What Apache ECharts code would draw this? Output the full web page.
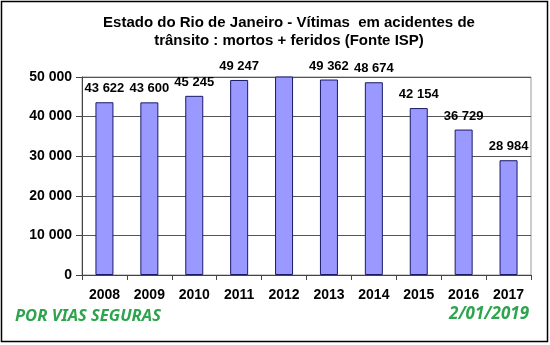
<!DOCTYPE html>
<html><head><meta charset="utf-8">
<script src="https://cdn.jsdelivr.net/npm/echarts@6/dist/echarts.min.js"></script>
<style>html,body{margin:0;padding:0;background:#fff}#c{width:550px;height:345px}</style>
</head><body><div id="c"></div>
<script>
const categories = ['2008','2009','2010','2011','2012','2013','2014','2015','2016','2017'];
const values = [43622, 43600, 45245, 49247, 50400, 49362, 48674, 42154, 36729, 28984];
const hiddenLabel = ['2012'];
const yTicks = [0, 10000, 20000, 30000, 40000, 50000];

function fmt(v){ return String(v).replace(/\B(?=(\d{3})+(?!\d))/g, ' '); }
const FONT = '"Liberation Sans", Arial, sans-serif';
const GFONT = '"Noto Sans", "Open Sans", sans-serif';
const chart = echarts.init(document.getElementById('c'));
chart.setOption({
  animation: false,
  backgroundColor: '#fff',
  title: {
    text: 'Estado do Rio de Janeiro - Vítimas  em acidentes de\ntrânsito : mortos + feridos (Fonte ISP)',
    left: 284, top: 9, textAlign: 'center',
    textStyle: { fontFamily: FONT, fontSize: 15, fontWeight: 'bold', color: '#000', lineHeight: 18 }
  },
  graphic: [
    { type: 'rect', shape: { x: 1.5, y: 1.5, width: 546, height: 340 }, style: { fill: null, stroke: '#000', lineWidth: 1.5 }, silent: true },
    { type: 'text', left: 15, top: 308, style: { text: 'POR VIAS SEGURAS', font: 'italic bold 16.5px ' + GFONT, fill: '#2ea44f' } },
    { type: 'text', right: 21, top: 306, style: { text: '2/01/2019', font: 'italic bold 17px ' + GFONT, fill: '#2ea44f' } }
  ],
  grid: { left: 82, top: 77, right: 19, bottom: 70, show: true, borderColor: '#999', borderWidth: 1 },
  xAxis: {
    type: 'category', data: categories,
    axisLine: { lineStyle: { color: '#444' } },
    axisTick: { show: true, length: 5, lineStyle: { color: '#444' } },
    axisLabel: { fontFamily: FONT, fontSize: 14, fontWeight: 'bold', color: '#000', margin: 13 }
  },
  yAxis: {
    type: 'value', min: 0, max: 50000, interval: 10000,
    axisLine: { show: true, lineStyle: { color: '#444' } },
    axisTick: { show: true, length: 6, lineStyle: { color: '#444' } },
    splitLine: { lineStyle: { color: '#555' } },
    axisLabel: { fontFamily: FONT, fontSize: 14, fontWeight: 'bold', color: '#000', margin: 10,
      formatter: v => yTicks.includes(v) ? fmt(v) : '' }
  },
  series: [{
    type: 'bar', barWidth: 18,
    data: values.map((v, i) => ({ value: v, label: { show: !hiddenLabel.includes(categories[i]) } })),
    itemStyle: { color: '#9999ff', borderColor: '#1a1a66', borderWidth: 1 },
    label: { show: true, position: 'top', distance: 7, formatter: p => fmt(p.value),
      fontFamily: FONT, fontSize: 13, fontWeight: 'bold', color: '#000' }
  }]
});
</script></body></html>
